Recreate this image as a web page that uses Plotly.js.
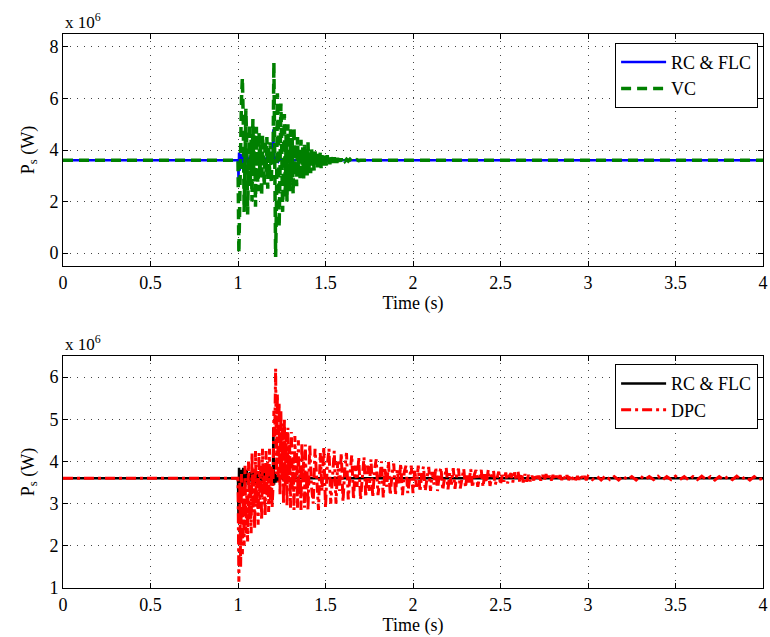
<!DOCTYPE html>
<html>
<head>
<meta charset="utf-8">
<script src="https://cdn.plot.ly/plotly-3.0.1.min.js"></script>
<style>html,body{margin:0;padding:0;background:#fff;}#chart{width:770px;height:637px;}</style>
</head>
<body>
<div id="chart"></div>
<script>
// Values in units of 10^6 W, time in s
const tRC1 = [0,1,1.003,1.006,1.01,1.015,1.02,1.03,1.04,1.05,1.06,1.07,1.08,1.09,1.1,1.11,1.12,1.13,1.14,1.15,1.16,1.17,1.18,1.19,1.2,1.202,1.206,1.21,1.215,1.22,1.23,1.24,1.26,1.28,1.3,1.35,1.4,4];
const pRC1 = [3.6,3.6,2.9,3.9,3.2,3.85,3.35,3.8,3.4,3.85,3.45,3.75,3.5,3.8,3.45,3.7,3.5,3.75,3.5,3.72,3.55,3.7,3.52,3.68,3.6,4.8,3.45,3.75,3.5,3.68,3.55,3.65,3.57,3.63,3.58,3.62,3.6,3.6];

const tVC = [0,1,1.005,1.01,1.015,1.02,1.025,1.03,1.035,1.04,1.045,1.05,1.055,1.06,1.065,1.07,1.075,1.08,1.085,1.09,1.095,1.1,1.105,1.11,1.115,1.12,1.125,1.13,1.135,1.14,1.145,1.15,1.155,1.16,1.165,1.17,1.175,1.18,1.185,1.19,1.195,1.2,1.205,1.21,1.215,1.22,1.225,1.23,1.235,1.24,1.245,1.25,1.255,1.26,1.265,1.27,1.275,1.28,1.285,1.29,1.295,1.3,1.305,1.31,1.315,1.32,1.325,1.33,1.335,1.34,1.345,1.35,1.355,1.36,1.365,1.37,1.375,1.38,1.385,1.39,1.395,1.4,1.405,1.41,1.415,1.42,1.425,1.43,1.435,1.44,1.445,1.45,1.455,1.46,1.465,1.47,1.475,1.48,1.485,1.49,1.495,1.5,1.505,1.51,1.515,1.52,1.525,1.53,1.535,1.54,1.545,1.55,1.555,1.56,1.565,1.57,1.575,1.58,1.585,1.59,1.595,1.6,1.61,1.62,1.63,1.64,1.65,1.66,1.67,1.68,1.69,1.7,4];
const pVC = [3.6,3.6,0.0,2.5,4.8,6.0,6.8,5.2,1.6,3.0,5.6,4.2,1.5,3.4,5.0,2.6,4.4,2.0,5.2,3.0,4.6,1.8,4.9,3.2,2.4,4.7,3.0,4.2,2.2,4.6,3.4,2.6,4.4,3.1,4.5,2.5,4.1,3.2,4.3,2.7,4.0,3.5,7.4,3.0,-0.15,2.0,6.2,5.0,1.0,3.2,5.8,4.0,1.6,3.8,5.4,2.2,4.6,2.0,5.0,3.4,2.4,4.8,2.8,4.4,2.3,4.9,3.0,4.2,2.6,4.5,3.2,4.0,2.8,4.4,3.1,4.1,2.9,4.2,3.3,3.9,3.0,4.3,3.2,3.9,3.1,4.1,3.4,3.8,3.2,4.0,3.4,3.9,3.3,3.8,3.5,3.9,3.3,3.8,3.4,3.9,3.45,3.75,3.4,3.8,3.5,3.7,3.45,3.75,3.5,3.7,3.5,3.72,3.52,3.68,3.5,3.7,3.54,3.66,3.55,3.67,3.55,3.65,3.56,3.64,3.57,3.64,3.57,3.63,3.58,3.62,3.59,3.6,3.6];

const tRC2 = [0,1,1.003,1.006,1.01,1.015,1.02,1.03,1.04,1.05,1.06,1.07,1.08,1.09,1.1,1.11,1.12,1.13,1.14,1.15,1.16,1.17,1.18,1.19,1.2,1.202,1.206,1.21,1.215,1.22,1.23,1.24,1.26,1.28,1.3,1.35,1.4,4];
const pRC2 = [3.6,3.6,2.6,3.85,3.0,3.8,3.3,3.85,3.4,3.8,3.45,3.75,3.5,3.8,3.45,3.7,3.5,3.75,3.5,3.72,3.55,3.7,3.52,3.68,3.6,4.8,3.45,3.75,3.5,3.68,3.55,3.65,3.57,3.63,3.58,3.62,3.6,3.6];

const tDPC = [0,
1,1.005,1.01,1.015,1.02,1.025,1.03,1.035,1.04,1.045,1.05,1.055,1.06,1.065,1.07,1.075,1.08,1.085,1.09,1.095,1.1,1.105,1.11,1.115,1.12,1.125,1.13,1.135,1.14,1.145,1.15,1.155,1.16,1.165,1.17,1.175,1.18,1.185,1.19,1.195,1.2,
1.205,1.21,1.215,1.22,1.225,1.23,1.235,1.24,1.245,1.25,1.255,1.26,1.265,1.27,1.275,1.28,1.285,1.29,1.295,1.3,1.305,1.31,1.315,1.32,1.325,1.33,1.335,1.34,1.345,1.35,1.355,1.36,1.365,1.37,1.375,1.38,1.385,1.39,1.395,1.4,
1.41,1.42,1.43,1.44,1.45,1.46,1.47,1.48,1.49,1.5,
1.51,1.52,1.53,1.54,1.55,1.56,1.57,1.58,1.59,1.6,
1.61,1.62,1.63,1.64,1.65,1.66,1.67,1.68,1.69,1.7,
1.71,1.72,1.73,1.74,1.75,1.76,1.77,1.78,1.79,1.8,
1.81,1.82,1.83,1.84,1.85,1.86,1.87,1.88,1.89,1.9,
1.91,1.92,1.93,1.94,1.95,1.96,1.97,1.98,1.99,2.0,
2.01,2.02,2.03,2.04,2.05,2.06,2.07,2.08,2.09,2.1,
2.11,2.12,2.13,2.14,2.15,2.16,2.17,2.18,2.19,2.2,
2.21,2.22,2.23,2.24,2.25,2.26,2.27,2.28,2.29,2.3,
2.31,2.32,2.33,2.34,2.35,2.36,2.37,2.38,2.39,2.4,
2.41,2.42,2.43,2.44,2.45,2.46,2.47,2.48,2.49,2.5,
2.51,2.52,2.53,2.54,2.55,2.56,2.57,2.58,2.59,2.6,
2.61,2.62,2.63,2.64,2.65,2.66,2.67,2.68,2.69,2.7,
2.71,2.72,2.73,2.74,2.75,2.76,2.77,2.78,2.79,2.8,
2.81,2.82,2.83,2.84,2.85,2.86,2.87,2.88,2.89,2.9,
2.91,2.92,2.93,2.94,2.95,2.96,2.97,2.98,2.99,3.0,
3.025,3.05,3.075,3.1,3.125,3.15,3.175,3.2,3.225,3.25,
3.275,3.3,3.325,3.35,3.375,3.4,3.425,3.45,3.475,3.5,
3.525,3.55,3.575,3.6,3.625,3.65,3.675,3.7,3.725,3.75,
3.775,3.8,3.825,3.85,3.875,3.9,3.925,3.95,3.975,4.0];
const pDPC = [3.6,
3.6,1.15,3.5,1.5,3.7,1.8,3.4,2.0,3.9,2.3,3.2,2.1,4.0,2.6,3.5,2.3,4.2,2.8,3.8,2.4,4.25,3.0,3.6,2.5,4.2,2.9,3.9,2.6,4.3,3.1,3.7,2.7,4.25,3.2,4.0,2.8,4.3,3.0,3.9,2.9,3.4,
5.2,4.6,6.2,3.7,5.6,3.5,5.4,3.2,5.2,3.6,4.9,3.0,5.0,3.4,4.7,2.95,4.8,3.5,4.4,2.9,4.7,3.3,4.1,2.85,4.6,3.6,4.2,2.9,4.5,3.2,3.9,2.85,4.45,3.5,4.0,2.9,4.4,3.3,3.8,2.85,
4.4,3.4,3.0,4.3,3.6,2.85,4.2,3.3,4.35,2.9,
3.9,4.3,3.0,3.6,4.25,3.0,4.0,3.3,4.2,3.05,
3.8,4.2,3.1,3.7,4.15,3.1,3.9,3.4,4.1,3.1,
3.7,4.1,3.15,3.9,3.3,4.05,3.15,3.8,4.05,3.2,
3.6,4.0,3.15,3.85,3.4,4.0,3.2,3.7,3.95,3.2,
3.8,3.45,3.95,3.2,3.75,3.9,3.25,3.6,3.9,3.25,
3.8,3.4,3.9,3.28,3.7,3.88,3.3,3.6,3.87,3.3,
3.75,3.45,3.86,3.3,3.7,3.85,3.32,3.6,3.85,3.34,
3.72,3.45,3.84,3.35,3.7,3.83,3.36,3.6,3.82,3.38,
3.72,3.5,3.82,3.38,3.68,3.8,3.4,3.62,3.8,3.4,
3.7,3.5,3.8,3.42,3.66,3.78,3.45,3.6,3.76,3.45,
3.68,3.52,3.74,3.48,3.66,3.72,3.5,3.74,3.55,3.76,
3.52,3.72,3.5,3.7,3.52,3.68,3.53,3.66,3.55,3.7,
3.54,3.66,3.55,3.68,3.55,3.7,3.56,3.66,3.55,3.68,
3.56,3.66,3.57,3.67,3.56,3.66,3.57,3.67,3.56,3.65,
3.57,3.66,3.56,3.65,3.57,3.66,3.57,3.65,3.56,3.65,
3.57,3.65,3.56,3.66,3.57,3.64,3.56,3.65,3.57,3.64,
3.56,3.65,3.57,3.64,3.57,3.65,3.56,3.64,3.57,3.65,
3.57,3.64,3.56,3.64,3.57,3.65,3.57,3.64,3.56,3.64,
3.57,3.64,3.57,3.65,3.57,3.64,3.56,3.64,3.57,3.6];

const seriesNames = ['RC &amp; FLC', 'VC', 'RC &amp; FLC', 'DPC'];
const xTickVals = [0, 0.5, 1, 1.5, 2, 2.5, 3, 3.5, 4];
const yTopTicks = [0, 2, 4, 6, 8];
const yBotTicks = [1, 2, 3, 4, 5, 6];

const FONT = 'Liberation Serif';

const traces = [
  {x: tRC1, y: pRC1, xaxis: 'x', yaxis: 'y', name: seriesNames[0], mode: 'lines',
   line: {color: '#0000ff', width: 2.5}, legend: 'legend'},
  {x: tVC, y: pVC, xaxis: 'x', yaxis: 'y', name: seriesNames[1], mode: 'lines',
   line: {color: '#008000', width: 3.5, dash: '10px,6px'}, legend: 'legend'},
  {x: tRC2, y: pRC2, xaxis: 'x2', yaxis: 'y2', name: seriesNames[2], mode: 'lines',
   line: {color: '#000000', width: 2.5}, legend: 'legend2'},
  {x: tDPC, y: pDPC, xaxis: 'x2', yaxis: 'y2', name: seriesNames[3], mode: 'lines',
   line: {color: '#ff0000', width: 3, dash: '10px,4px,3px,4px'}, legend: 'legend2'}
];

function xAxis(anchor) {
  return {
    anchor: anchor, domain: [0, 1], range: [0, 4], tickvals: xTickVals,
    ticks: 'inside', ticklen: 5, tickcolor: '#000', mirror: 'ticks',
    showline: true, linecolor: '#000', linewidth: 1,
    showgrid: true, gridcolor: '#444', gridwidth: 1, griddash: '1px,6px',
    zeroline: false, tickfont: {family: FONT, size: 18, color: '#000'},
    title: {text: 'Time (s)', font: {family: FONT, size: 18, color: '#000'}, standoff: 0}
  };
}
function yAxis(anchor, domain, range, ticks) {
  return {
    anchor: anchor, domain: domain, range: range, tickvals: ticks,
    ticks: 'inside', ticklen: 5, tickcolor: '#000', mirror: 'ticks',
    showline: true, linecolor: '#000', linewidth: 1,
    showgrid: true, gridcolor: '#444', gridwidth: 1, griddash: '1px,6px',
    zeroline: false, tickfont: {family: FONT, size: 18, color: '#000'},
    title: {text: 'P<sub>s</sub> (W)', font: {family: FONT, size: 18, color: '#000'}, standoff: 10}
  };
}
const legendStyle = {
  xref: 'paper', yref: 'paper', xanchor: 'right', yanchor: 'top',
  bgcolor: '#fff', bordercolor: '#000', borderwidth: 1,
  font: {family: FONT, size: 18, color: '#000'}, itemwidth: 45, tracegroupgap: 0
};

const layout = {
  width: 770, height: 637,
  margin: {l: 63, r: 7, t: 34, b: 49},
  paper_bgcolor: '#fff', plot_bgcolor: '#fff',
  font: {family: FONT, size: 18, color: '#000'},
  showlegend: true,
  xaxis: xAxis('y'),
  yaxis: yAxis('x', [0.5812, 1], [-0.5, 8.5], yTopTicks),
  xaxis2: xAxis('y2'),
  yaxis2: yAxis('x2', [0, 0.4188], [1, 6.5], yBotTicks),
  legend: Object.assign({x: 0.993, y: 0.984}, legendStyle),
  legend2: Object.assign({x: 0.993, y: 0.404}, legendStyle),
  annotations: [
    {xref: 'paper', yref: 'paper', x: 0, y: 1, xanchor: 'left', yanchor: 'bottom',
     text: 'x 10<sup>6</sup>', showarrow: false, font: {family: FONT, size: 17, color: '#000'}},
    {xref: 'paper', yref: 'paper', x: 0, y: 0.4188, xanchor: 'left', yanchor: 'bottom',
     text: 'x 10<sup>6</sup>', showarrow: false, font: {family: FONT, size: 17, color: '#000'}}
  ]
};

Plotly.newPlot('chart', traces, layout, {displayModeBar: false, staticPlot: true});
</script>
</body>
</html>
